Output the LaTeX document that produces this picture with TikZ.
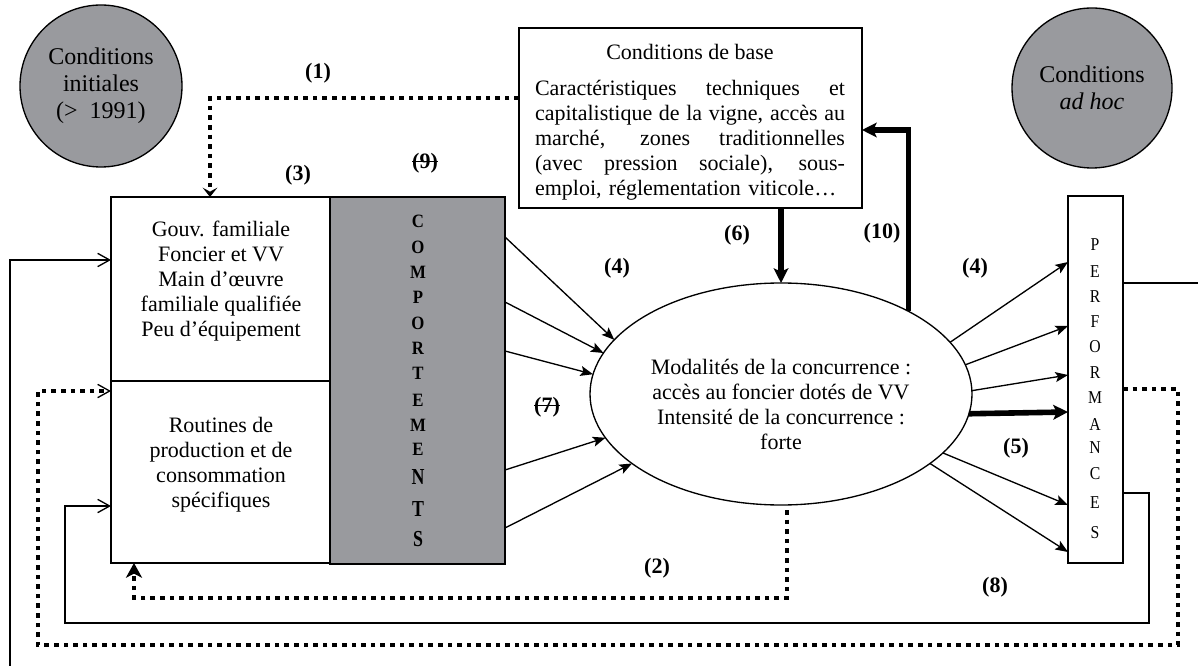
\documentclass[tikz,border=0pt]{standalone}
\usepackage{fontspec}
\setmainfont{Liberation Serif}
\usetikzlibrary{arrows.meta,shapes.geometric,calc}
\definecolor{boxgray}{RGB}{153,154,158}

% struck-through label text
\newcommand{\strk}[1]{\setbox0\hbox{#1}\rlap{\rule[0.27em]{\wd0}{0.07em}}\box0}
% one fully justified line of the basic-conditions paragraph
\newcommand{\jline}[1]{\makebox[232.5pt][s]{\spaceskip=0pt\relax #1}}

\tikzset{
  thinline/.style={line width=1pt},
  dotline/.style={line width=3.6pt, dash pattern=on 3.5pt off 3.7pt, line join=miter},
  heavy/.style={line width=4.2pt},
  frame/.style={draw, line width=1pt, inner sep=0pt, outer sep=0pt},
  txt/.style={align=center, inner sep=0pt, font=\fontsize{16.5}{18.75}\selectfont},
  bigtxt/.style={align=center, inner sep=0pt, font=\fontsize{18}{20.25}\selectfont},
  lbl/.style={inner sep=0pt, font=\bfseries\fontsize{16.5}{18}\selectfont},
  tipfill/.style={-{Stealth[length=9.5pt,width=7.5pt,inset=2pt]}},
  tipheavy/.style={-{Stealth[length=11pt,width=11pt,inset=2.5pt]}},
  tipdotA/.style={-{Stealth[length=7pt,width=11pt,inset=3pt]}},
  tipdotB/.style={-{Stealth[length=11pt,width=12pt,inset=3pt]}},
  tipopen/.style={-{Straight Barb[length=9pt,width=10pt,line width=1pt]}},
}

\begin{document}
\begin{tikzpicture}[x=0.75pt,y=-0.75pt]
\useasboundingbox (0,0) rectangle (1198,666);

% grey circles
\node[frame, circle, fill=boxgray, minimum size=121.5pt, bigtxt] (initc) at (101,86)
  {Conditions\\initiales\\(>~ 1991)};
\node[frame, circle, fill=boxgray, minimum size=120pt, bigtxt] (adhoc) at (1092,88)
  {Conditions\\\textit{ad hoc}};

% basic conditions box
\node[frame, minimum width=257.25pt, minimum height=135pt] (base) at (690.5,118) {};
\node[txt] (basetitle) at (690,52) {Conditions de base};
\node[txt, align=left, text width=232.5pt] (basebody) at (690,140)
  {\jline{Caractéristiques techniques et}\\
   \jline{capitalistique de la vigne, accès au}\\
   \jline{marché, zones traditionnelles}\\
   \jline{(avec pression sociale), sous-}\\
   emploi, réglementation viticole…};

% firm box (two parts) and behaviour column
\node[frame, minimum width=164.25pt, minimum height=138pt] (lbt) at (220.5,289) {};
\node[frame, minimum width=164.25pt, minimum height=136.5pt] (lbb) at (220.5,472) {};
\node[txt] (lbttext) at (221,281)
  {Gouv. familiale\\Foncier et VV\\Main d’œuvre\\familiale qualifiée\\Peu d’équipement};
\node[txt] (lbbtext) at (221,465)
  {Routines de\\production et de\\consommation\\spécifiques};
\node[frame, fill=boxgray, minimum width=131.25pt, minimum height=275.25pt] (g) at (417.5,380.5) {};
\foreach \l/\yy/\s/\v [count=\i] in {C/221/12.6/1.12, O/247/12.6/1.12, M/272/12.6/1.12,
    P/297/12.6/1.12, O/323/12.6/1.12, R/348/12.6/1.12, T/373/12.6/1.12, E/400/12.6/1.12,
    M/425/12.6/1.12, E/449/12.6/1.12, N/477/13.4/1.28, T/509/13.4/1.28, S/539/13.4/1.28}
  \node[inner sep=0pt, font=\bfseries\fontsize{\s}{\s}\selectfont] (cmp\i) at (418,\yy)
    {\scalebox{1}[\v]{\l}};

% performance column
\node[frame, minimum width=41.25pt, minimum height=275.25pt] (perf) at (1095.5,379.5) {};
\foreach \l/\yy [count=\i] in {P/245, E/272, R/297, F/322, O/347, R/373, M/398, A/425,
    N/448, C/474, E/503, S/533}
  \node[inner sep=0pt, font=\fontsize{11.8}{11.8}\selectfont] (prf\i) at (1095,\yy)
    {\scalebox{1}[1.15]{\l}};

% competition ellipse
\node[frame, ellipse, minimum width=286.5pt, minimum height=166.5pt] (ell) at (781,394) {};
\node[txt] (elltext) at (781,404)
  {Modalités de la concurrence :\\accès au foncier dotés de VV\\Intensité de la concurrence :\\forte};

% behaviour -> competition
\foreach \dy/\ang in {40/162, 105/167, 154/174.4, 273/194.6, 331/205}
  \draw[thinline, tipfill] ($(g.north east)+(0,\dy)$) -- (ell.\ang);

% competition -> performance
\foreach \ang/\dy in {17.7/66, 9.6/130, 1.8/179, 340.2/309, 335.7/356}
  \draw[thinline, tipfill] (ell.\ang) -- ($(perf.north west)+(0,\dy)$);
\draw[heavy, tipheavy] (ell.354.6) -- ($(perf.north west)+(0,216)$);

% basic conditions <-> competition
\draw[heavy, tipheavy] (ell.north |- base.south) -- (ell.north);
\draw[heavy, tipheavy] (ell.33.7) |- ($(base.north east)+(0,102)$);

% dotted feedbacks
\draw[dotline, tipdotA] ($(base.north west)+(0,70)$) -| ($(lbt.north west)+(99,0)$);
\draw[dotline, tipdotB] ($(ell.south)+(6,5)$) -- ++(0,88) -| ($(lbb.south west)+(23,0)$);
\draw[dotline, tipopen] ($(perf.north east)+(0,193)$) -- ++(55,0) -- ++(0,256)
  -| ($(lbb.north west)+(-73,10)$) -- ($(lbb.north west)+(0,10)$);

% solid feedbacks
\draw[thinline, tipopen] ($(perf.north east)+(0,297)$) -- ++(26,0) -- ++(0,130)
  -| ($(lbb.north west)+(-46,125)$) -- ($(lbb.north west)+(0,125)$);
\coordinate (edgeL) at (10,666);
\coordinate (edgeR) at (1198,283);
\draw[thinline, tipopen] (edgeL) |- ($(lbt.north west)+(0,63)$);
\draw[thinline] ($(perf.north east)+(0,87)$) -- (edgeR);

% link numbers
\node[lbl] (n1) at (318,73) {(1)};
\node[lbl] (n3) at (298,175) {(3)};
\node[lbl] (n9) at (425,163) {\strk{(9)}};
\node[lbl] (n4a) at (617,268) {(4)};
\node[lbl] (n6) at (737,235) {(6)};
\node[lbl] (n10) at (882,233) {(10)};
\node[lbl] (n4b) at (975,268) {(4)};
\node[lbl] (n5) at (1016,448) {(5)};
\node[lbl] (n8) at (995,587) {(8)};
\node[lbl] (n2) at (657,568) {(2)};
\node[lbl] (n7) at (547,407) {\strk{(7)}};
\end{tikzpicture}
\end{document}
